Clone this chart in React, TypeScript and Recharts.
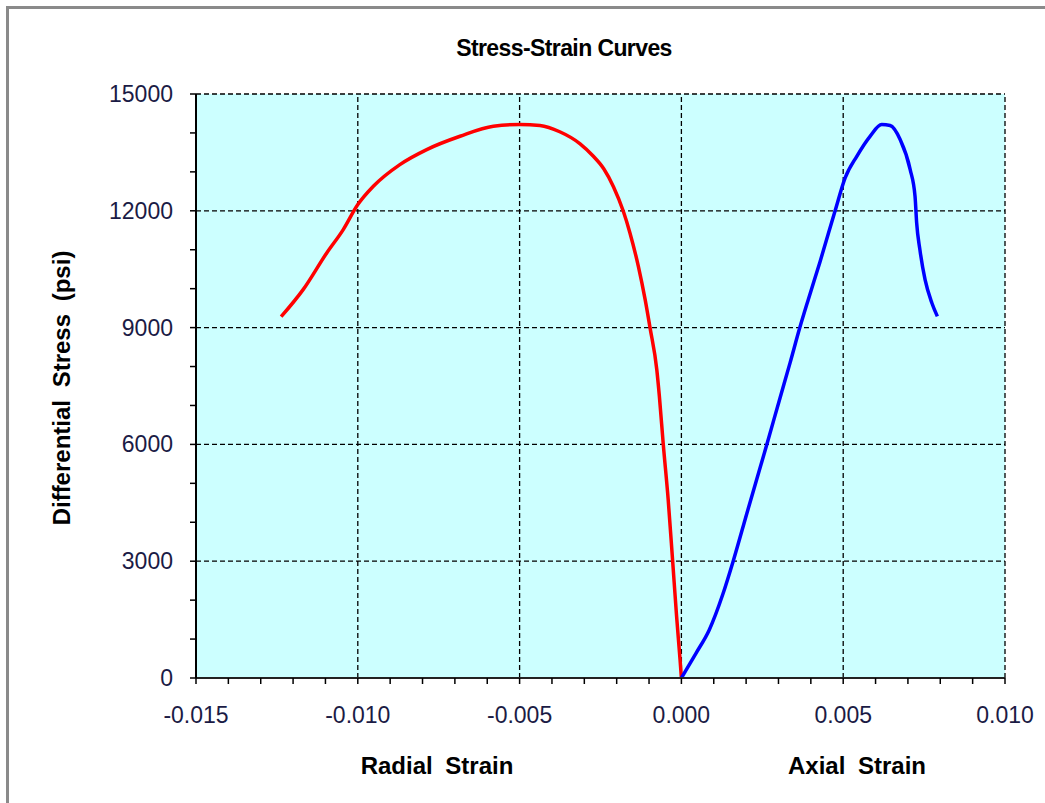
import { ComposedChart, Line, XAxis, YAxis, CartesianGrid, ReferenceLine } from 'recharts';

// radial strain (negative side) vs differential stress
const radialStrain = [
  -0.01237, -0.01169, -0.01096, -0.01045, -0.01, -0.00952, -0.0087, -0.00787, -0.00684, -0.00581,
  -0.00499, -0.00437, -0.00376, -0.00313, -0.00272, -0.0024, -0.0021, -0.0018, -0.00159, -0.00133,
  -0.00112, -0.00097, -0.00076, -0.00068, -0.00056, -0.00041, -0.00027, -0.00015, -0.00004, 0,
];
const radialStress = [
  9280, 9975, 10917, 11517, 12160, 12630, 13187, 13573, 13915, 14172,
  14216, 14190, 14030, 13720, 13400, 13080, 12620, 12000, 11432, 10573,
  9717, 9000, 7917, 7230, 6000, 4600, 3000, 1600, 450, 0,
];

// axial strain vs differential stress
const axialStrain = [
  0, 0.00045, 0.00086, 0.00128, 0.0016, 0.00202, 0.00264, 0.00305, 0.00336, 0.00366,
  0.00392, 0.00428, 0.00475, 0.00506, 0.00542, 0.00583, 0.00619, 0.00645, 0.00676, 0.00707,
  0.00722, 0.00727, 0.00737, 0.00753, 0.00774, 0.00791,
];
const axialStress = [
  0, 635, 1234, 2150, 3000, 4220, 6000, 7200, 8100, 9000,
  9717, 10680, 12000, 12846, 13400, 13914, 14215, 14190, 13830, 13060,
  12372, 11688, 11003, 10231, 9631, 9288,
];

const xTicks = [
  -0.015, -0.014, -0.013, -0.012, -0.011, -0.01, -0.009, -0.008, -0.007, -0.006,
  -0.005, -0.004, -0.003, -0.002, -0.001, 0, 0.001, 0.002, 0.003, 0.004,
  0.005, 0.006, 0.007, 0.008, 0.009, 0.01,
];
const xLabels = ['-0.015', '-0.010', '-0.005', '0.000', '0.005', '0.010'];
const xMajor = [-0.015, -0.01, -0.005, 0, 0.005, 0.01];
const yTicks = [0, 1000, 2000, 3000, 4000, 5000, 6000, 7000, 8000, 9000, 10000, 11000, 12000, 13000, 14000, 15000];
const yMajor = [0, 3000, 6000, 9000, 12000, 15000];

const radialData = radialStrain.map((x, i) => ({ x, y: radialStress[i] }));
const axialData = axialStrain.map((x, i) => ({ x, y: axialStress[i] }));

const font = '"Liberation Sans", Arial, sans-serif';
const labelColor = '#1b1b45';

const XTick = (props: any) => {
  const { x, y, payload } = props;
  const idx = xMajor.findIndex((v) => Math.abs(v - payload.value) < 1e-9);
  if (idx < 0) return <g />;
  return (
    <text x={x} y={y + 37} textAnchor="middle" fontFamily={font} fontSize={23} fill={labelColor}>
      {xLabels[idx]}
    </text>
  );
};

const YTick = (props: any) => {
  const { x, y, payload } = props;
  if (!yMajor.includes(payload.value)) return <g />;
  return (
    <text x={x - 15} y={y + 8} textAnchor="end" fontFamily={font} fontSize={23} fill={labelColor}>
      {payload.value}
    </text>
  );
};

export default function App() {
  return (
    <div style={{ position: 'absolute', left: 0, top: 0, width: 1045, height: 803, background: '#fff', overflow: 'hidden' }}>
      <div
        style={{
          position: 'absolute',
          left: 6,
          top: 6,
          width: 1100,
          height: 900,
          borderLeft: '3px solid #8a8a8a',
          borderTop: '3px solid #8a8a8a',
        }}
      />
      <div style={{ position: 'absolute', left: 0, top: 0 }}>
        <ComposedChart width={1045} height={803} margin={{ top: 94, right: 40, bottom: 65, left: 116 }}>
          <CartesianGrid horizontal={false} vertical={false} fill="#ccffff" fillOpacity={1} />
          <XAxis
            type="number"
            dataKey="x"
            domain={[-0.015, 0.01]}
            ticks={xTicks}
            interval={0}
            height={60}
            tick={<XTick />}
            tickSize={6}
            tickLine={{ stroke: '#000', strokeWidth: 1.5 }}
            axisLine={{ stroke: '#222', strokeWidth: 2 }}
            allowDataOverflow
          />
          <YAxis
            type="number"
            domain={[0, 15000]}
            ticks={yTicks}
            interval={0}
            width={80}
            tick={<YTick />}
            tickSize={6}
            tickLine={{ stroke: '#000', strokeWidth: 1.5 }}
            axisLine={{ stroke: '#000', strokeWidth: 2 }}
            allowDataOverflow
          />
          {yMajor.filter((v) => v > 0).map((v) => (
            <ReferenceLine key={'h' + v} y={v} stroke="#000" strokeWidth={1.3} strokeDasharray="5 3" />
          ))}
          {xMajor.filter((v) => v > -0.015).map((v) => (
            <ReferenceLine key={'v' + v} x={v} stroke="#000" strokeWidth={1.3} strokeDasharray="5 3" />
          ))}
          <Line
            data={radialData}
            dataKey="y"
            type="monotone"
            stroke="#ff0000"
            strokeWidth={3.5}
            dot={false}
            isAnimationActive={false}
          />
          <Line
            data={axialData}
            dataKey="y"
            type="monotone"
            stroke="#0000ff"
            strokeWidth={3.5}
            dot={false}
            isAnimationActive={false}
          />
          <text x={564} y={56} textAnchor="middle" fontFamily={font} fontSize={23} fontWeight="bold" letterSpacing={-0.6}>
            Stress-Strain Curves
          </text>
          <text
            x={70}
            y={388}
            transform="rotate(-90 70 388)"
            textAnchor="middle"
            fontFamily={font}
            fontSize={24}
            fontWeight="bold"
            wordSpacing={6}
          >
            Differential Stress (psi)
          </text>
          <text x={437} y={774} textAnchor="middle" fontFamily={font} fontSize={24} fontWeight="bold" wordSpacing={6}>
            Radial Strain
          </text>
          <text x={857} y={774} textAnchor="middle" fontFamily={font} fontSize={24} fontWeight="bold" wordSpacing={6}>
            Axial Strain
          </text>
        </ComposedChart>
      </div>
    </div>
  );
}
